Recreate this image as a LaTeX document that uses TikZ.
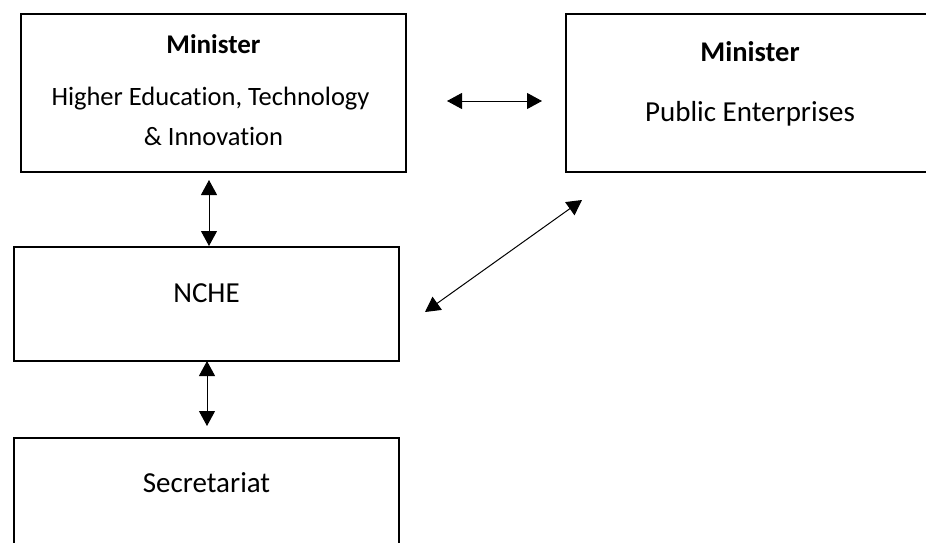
\documentclass[tikz,border=0pt]{standalone}
\usepackage{fontspec}
\setmainfont[Ligatures=NoCommon]{Carlito}
\usetikzlibrary{arrows.meta}
\begin{document}
\begin{tikzpicture}[x=1pt,y=-1pt,
  box/.style={draw=black,line width=2pt,fill=none},
  txtA/.style={anchor=base,inner sep=0pt,font=\fontsize{26.5}{30}\selectfont},
  txtAb/.style={anchor=base,inner sep=0pt,font=\fontsize{27}{30}\selectfont\bfseries},
  txtB/.style={anchor=base,inner sep=0pt,font=\fontsize{29}{33}\selectfont},
  txtBb/.style={anchor=base,inner sep=0pt,font=\fontsize{28.5}{33}\selectfont\bfseries},
  link/.style={line width=1pt,{Triangle[length=15pt,width=16pt]}-{Triangle[length=15pt,width=16pt]}}]
\useasboundingbox (0,0) rectangle (926,543);
\clip (0,0) rectangle (926,543);
% boxes
\draw[box] (21,14) rectangle (406,172);
\draw[box] (565.5,14) rectangle (960,172);
\draw[box] (14,247) rectangle (399,360.5);
\draw[box] (14,437.5) rectangle (399,580);
% labels
\node[txtAb] (m1) at (213.5,53) {Minister};
\node[txtA] (h1) at (210.5,105) {Higher Education, Technology};
\node[txtA] (h2) at (213.5,145) {\& Innovation};
\node[txtBb] (m2) at (750,62) {Minister};
\node[txtB] (pe) at (750,121) {Public Enterprises};
\node[txtB] (nche) at (206.5,302) {NCHE};
\node[txtB] (sec) at (206.5,492) {Secretariat};
% arrow end points
\coordinate (a1) at (209,180);
\coordinate (a2) at (209,246);
\coordinate (b1) at (207,361);
\coordinate (b2) at (207,426);
\coordinate (c1) at (447,101);
\coordinate (c2) at (542,101);
\coordinate (d1) at (425,312);
\coordinate (d2) at (582,200);
\draw[link] (a1) -- (a2);
\draw[link] (b1) -- (b2);
\draw[link] (c1) -- (c2);
\draw[link] (d1) -- (d2);
\end{tikzpicture}
\end{document}
